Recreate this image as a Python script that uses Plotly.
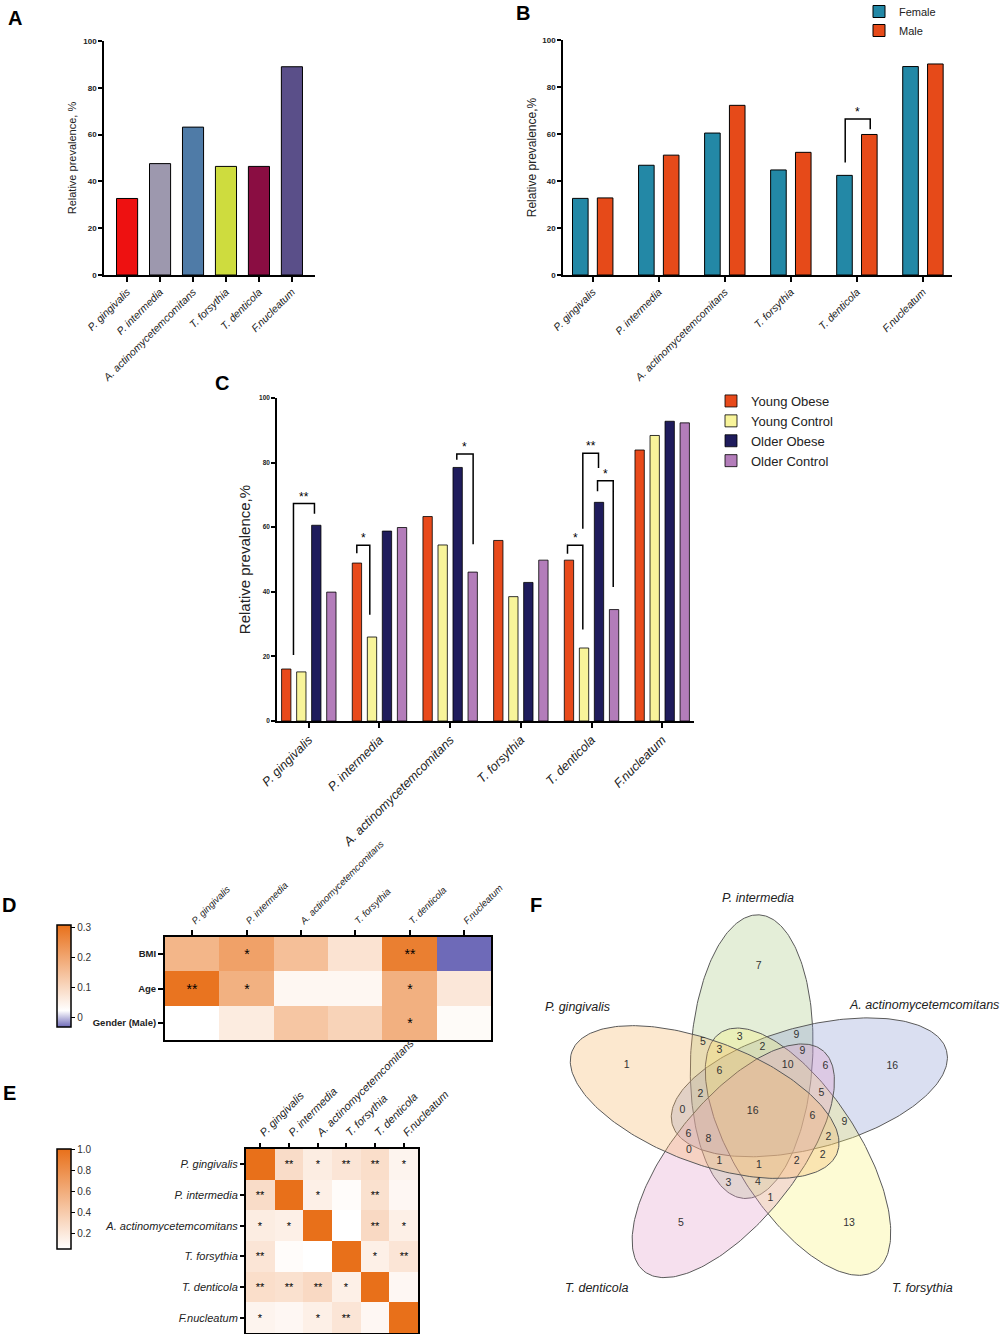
import numpy as np
import plotly.graph_objects as go

W, H = 1002, 1334


def fx(px):
    return px / W


def fy(py):
    return 1 - py / H


FONT = "Liberation Sans"

species = ["P. gingivalis", "P. intermedia", "A. actinomycetemcomitans",
           "T. forsythia", "T. denticola", "F.nucleatum"]

# ---------------- Panel A: overall prevalence ----------------
prev_all = [32.7, 47.6, 63.2, 46.4, 46.4, 89.0]
colors_a = ["#EE1111", "#9D98AE", "#4F7BA7", "#CEDC3E", "#8A0D42", "#5A4F89"]

# ---------------- Panel B: by gender ----------------
prev_female = [32.6, 46.7, 60.4, 44.7, 42.4, 88.7]
prev_male = [32.8, 51.0, 72.2, 52.2, 59.8, 89.8]
# bracket: category index, left offset, right offset, y left, y top, y right, label
brackets_b = [(4, -0.177, 0.202, 47.9, 66.4, 62.0, "*")]

# ---------------- Panel C: by group ----------------
groups_c = ["Young Obese", "Young Control", "Older Obese", "Older Control"]
young_obese = [16.1, 48.9, 63.3, 55.9, 49.8, 83.9]
young_control = [15.2, 26.0, 54.5, 38.5, 22.6, 88.4]
older_obese = [60.6, 58.8, 78.5, 42.9, 67.7, 92.8]
older_control = [39.9, 59.9, 46.1, 49.8, 34.5, 92.3]
colors_c = ["#E84A1B", "#F8F49A", "#1F1C5C", "#B37DBA"]
brackets_c = [
    (0, -0.217, 0.080, 20.4, 67.3, 64.2, "**"),
    (1, -0.321, -0.137, 51.9, 54.4, 32.9, "*"),
    (2, 0.094, 0.325, 80.9, 82.7, 54.7, "*"),
    (4, -0.340, -0.123, 51.8, 54.4, 28.3, "*"),
    (4, -0.123, 0.099, 59.5, 82.9, 78.3, "**"),
    (4, 0.085, 0.307, 71.1, 74.4, 41.5, "*"),
]

# ---------------- Panel D: correlation with host factors ----------------
factors = ["BMI", "Age", "Gender (Male)"]
corr_bmi = [0.168, 0.21, 0.15, 0.077, 0.278, -0.06]
corr_age = [0.30, 0.178, 0.037, 0.037, 0.18, 0.069]
corr_gender = [0.022, 0.06, 0.136, 0.11, 0.18, 0.03]
stars_bmi = ["", "*", "", "", "**", ""]
stars_age = ["**", "*", "", "", "*", ""]
stars_gender = ["", "", "", "", "*", ""]

# ---------------- Panel E: species co-occurrence ----------------
corr_pg = [1.0, 0.28, 0.17, 0.22, 0.27, 0.12]
corr_pi = [0.28, 1.0, 0.15, 0.07, 0.25, 0.10]
corr_aa = [0.17, 0.15, 1.0, 0.04, 0.30, 0.15]
corr_tf = [0.22, 0.07, 0.04, 1.0, 0.15, 0.22]
corr_td = [0.27, 0.25, 0.30, 0.15, 1.0, 0.10]
corr_fn = [0.12, 0.10, 0.15, 0.22, 0.10, 1.0]
stars_pg = ["", "**", "*", "**", "**", "*"]
stars_pi = ["**", "", "*", "", "**", ""]
stars_aa = ["*", "*", "", "", "**", "*"]
stars_tf = ["**", "", "", "", "*", "**"]
stars_td = ["**", "**", "**", "*", "", ""]
stars_fn = ["*", "", "*", "**", "", ""]

# ---------------- Panel F: five-set Venn ----------------
venn_sets = ["P. intermedia", "A. actinomycetemcomitans", "T. forsythia",
             "T. denticola", "P. gingivalis"]
venn_fill = ["rgba(165,198,125,0.30)", "rgba(132,148,208,0.30)",
             "rgba(248,242,112,0.30)", "rgba(225,152,198,0.30)",
             "rgba(245,178,95,0.30)"]
venn_counts = [7, 16, 13, 5, 1, 5, 3, 3, 2, 9, 9, 10, 6, 6, 2, 5, 0, 16, 6, 9,
               6, 8, 2, 0, 2, 1, 1, 2, 3, 4, 1]
venn_count_x = [758.7, 892.3, 849.0, 681.0, 626.7, 703.0, 719.3, 739.7, 762.3,
                796.3, 802.3, 787.7, 825.3, 719.3, 700.3, 821.3, 682.3, 752.7,
                812.3, 844.3, 688.3, 708.3, 828.3, 689.0, 822.7, 719.3, 759.0,
                796.7, 728.3, 758.0, 770.3]
venn_count_y = [966.0, 1066.0, 1223.3, 1223.3, 1065.3, 1042.7, 1050.0, 1037.7,
                1047.7, 1035.3, 1051.0, 1065.0, 1066.7, 1071.0, 1094.7, 1093.7,
                1110.0, 1111.0, 1116.0, 1122.7, 1134.0, 1139.3, 1137.3, 1150.0,
                1155.3, 1161.7, 1165.3, 1161.7, 1183.3, 1182.7, 1198.3]

fig = go.Figure()

# ---- Panel A
fig.add_trace(go.Bar(x=species, y=prev_all, width=0.64,
                     marker=dict(color=colors_a, line=dict(color="black", width=1)),
                     xaxis="x", yaxis="y", showlegend=False))

# ---- Panel B
fig.add_trace(go.Bar(x=species, y=prev_female, width=0.236, offset=-0.306,
                     name="Female", marker=dict(color="#2388A6", line=dict(color="black", width=1)),
                     xaxis="x2", yaxis="y2", legend="legend"))
fig.add_trace(go.Bar(x=species, y=prev_male, width=0.236, offset=0.07,
                     name="Male", marker=dict(color="#E64A19", line=dict(color="black", width=1)),
                     xaxis="x2", yaxis="y2", legend="legend"))

# ---- Panel C
c_series = [young_obese, young_control, older_obese, older_control]
c_centers = [-0.319, -0.106, 0.106, 0.319]
for name, vals, col, cen in zip(groups_c, c_series, colors_c, c_centers):
    fig.add_trace(go.Bar(x=species, y=vals, width=0.132, offset=cen - 0.066,
                         name=name, marker=dict(color=col, line=dict(color="black", width=0.8)),
                         xaxis="x3", yaxis="y3", legend="legend2"))

# ---- Panel D
fig.add_trace(go.Heatmap(
    x=species, y=factors, z=[corr_bmi, corr_age, corr_gender],
    text=[stars_bmi, stars_age, stars_gender], texttemplate="%{text}",
    textfont=dict(size=14, color="black", family=FONT),
    zmin=-0.033, zmax=0.307,
    colorscale=[[0, "#6E6AB8"], [0.16, "#FFFFFF"], [1, "#E8701A"]],
    xaxis="x4", yaxis="y4",
    colorbar=dict(x=fx(57), xanchor="left", y=fy(976), yanchor="middle",
                  len=102, lenmode="pixels", thickness=14, thicknessmode="pixels",
                  outlinewidth=1.5, outlinecolor="black",
                  tickvals=[0, 0.1, 0.2, 0.3], ticktext=["0", "0.1", "0.2", "0.3"],
                  ticks="outside", ticklen=4, tickcolor="black",
                  tickfont=dict(size=10, family=FONT, color="#333"), xpad=0, ypad=0),
    hoverinfo="skip"))

# ---- Panel E
fig.add_trace(go.Heatmap(
    x=species, y=species, z=[corr_pg, corr_pi, corr_aa, corr_tf, corr_td, corr_fn],
    text=[stars_pg, stars_pi, stars_aa, stars_tf, stars_td, stars_fn], texttemplate="%{text}",
    textfont=dict(size=11, color="black", family=FONT),
    zmin=0.05, zmax=1.0,
    colorscale=[[0, "#FFFFFF"], [1, "#E8701A"]],
    xaxis="x5", yaxis="y5",
    colorbar=dict(x=fx(57), xanchor="left", y=fy(1199), yanchor="middle",
                  len=100, lenmode="pixels", thickness=14, thicknessmode="pixels",
                  outlinewidth=1.5, outlinecolor="black",
                  tickvals=[0.2, 0.4, 0.6, 0.8, 1.0], ticktext=["0.2", "0.4", "0.6", "0.8", "1.0"],
                  ticks="outside", ticklen=4, tickcolor="black",
                  tickfont=dict(size=10, family=FONT, color="#333"), xpad=0, ypad=0),
    hoverinfo="skip"))

# ---- Panel F: Venn ellipses
venn_center = (759.4, 1111.7)
venn_offset = 55.6
venn_a, venn_b = 142.0, 61.0
venn_phi0, venn_tilt = -98.0, 11.0
t = np.linspace(0, 2 * np.pi, 240)
for k, (nm, fc) in enumerate(zip(venn_sets, venn_fill)):
    phi = np.radians(venn_phi0 + 72 * k)
    psi = phi + np.radians(venn_tilt)
    cx = venn_center[0] + venn_offset * np.cos(phi)
    cy = venn_center[1] + venn_offset * np.sin(phi)
    ex = cx + venn_a * np.cos(t) * np.cos(psi) - venn_b * np.sin(t) * np.sin(psi)
    ey = cy + venn_a * np.cos(t) * np.sin(psi) + venn_b * np.sin(t) * np.cos(psi)
    fig.add_trace(go.Scatter(x=ex, y=ey, mode="lines", fill="toself", fillcolor=fc,
                             line=dict(color="#5A5A5A", width=1), name=nm,
                             xaxis="x6", yaxis="y6", showlegend=False, hoverinfo="skip"))
fig.add_trace(go.Scatter(x=venn_count_x, y=venn_count_y, mode="text",
                         text=[str(v) for v in venn_counts],
                         textfont=dict(size=10.5, color="#333", family=FONT),
                         xaxis="x6", yaxis="y6", showlegend=False, hoverinfo="skip"))

venn_label_pos = [(758, 898), (924, 1005), (922, 1288), (597, 1288), (577, 1007)]

# ---------------- Layout ----------------
axis_line = dict(showline=True, linecolor="black", showgrid=False, automargin=False,
                 zeroline=False, ticks="outside", tickcolor="black", tickwidth=1.5)

layout = dict(
    width=W, height=H, margin=dict(l=0, r=0, t=0, b=0, pad=0, autoexpand=False),
    paper_bgcolor="white", plot_bgcolor="rgba(0,0,0,0)",
    barmode="overlay",
    font=dict(family=FONT, color="#222"),
    xaxis=dict(domain=[fx(104), fx(315)], anchor="y", type="category",
               range=[-0.7, 5.7], tickangle=-45, ticklen=5, linewidth=1.5,
               tickfont=dict(size=10.5, style="italic", family=FONT, color="#222"), **axis_line),
    yaxis=dict(domain=[fy(275), fy(41)], anchor="x", range=[0, 100],
               tickvals=[0, 20, 40, 60, 80, 100], ticklen=4, linewidth=1.5,
               tickfont=dict(size=8, weight="bold", family=FONT, color="#222"),
               title=dict(text="Relative prevalence, %", font=dict(size=11, family=FONT, color="#222"),
                          standoff=4), **axis_line),
    xaxis2=dict(domain=[fx(563), fx(952)], anchor="y2", type="category",
                range=[-0.45, 5.44], tickangle=-45, ticklen=5, linewidth=1.5,
                tickfont=dict(size=10.5, style="italic", family=FONT, color="#222"), **axis_line),
    yaxis2=dict(domain=[fy(275), fy(40)], anchor="x2", range=[0, 100],
                tickvals=[0, 20, 40, 60, 80, 100], ticklen=4, linewidth=1.5,
                tickfont=dict(size=8, weight="bold", family=FONT, color="#222"),
                title=dict(text="Relative prevalence,%", font=dict(size=12, family=FONT, color="#222"),
                           standoff=3), **axis_line),
    xaxis3=dict(domain=[fx(277), fx(694)], anchor="y3", type="category",
                range=[-0.45, 5.45], tickangle=-45, ticklen=5, linewidth=1.5,
                tickfont=dict(size=12.5, style="italic", family=FONT, color="#222"), **axis_line),
    yaxis3=dict(domain=[fy(721), fy(398)], anchor="x3", range=[0, 100],
                tickvals=[0, 20, 40, 60, 80, 100], ticklen=4, linewidth=1.5,
                tickfont=dict(size=6.5, weight="bold", family=FONT, color="#222"),
                title=dict(text="Relative prevalence,%", font=dict(size=15, family=FONT, color="#222"),
                           standoff=5), **axis_line),
    xaxis4=dict(domain=[fx(165), fx(491)], anchor="y4", side="top", type="category",
                tickangle=-45, ticklen=5, mirror=True, linewidth=2,
                tickfont=dict(size=9.5, style="italic", family=FONT, color="#222"), **axis_line),
    yaxis4=dict(domain=[fy(1040), fy(937)], anchor="x4", type="category",
                autorange="reversed", ticklen=5, mirror=True, linewidth=2,
                tickfont=dict(size=9.5, weight="bold", family=FONT, color="#222"), **axis_line),
    xaxis5=dict(domain=[fx(246), fx(418)], anchor="y5", side="top", type="category",
                tickangle=-45, ticklen=4, mirror=True, linewidth=2,
                tickfont=dict(size=11, style="italic", family=FONT, color="#222"), **axis_line),
    yaxis5=dict(domain=[fy(1333), fy(1149)], anchor="x5", type="category",
                autorange="reversed", ticklen=4, mirror=True, linewidth=2,
                tickfont=dict(size=11, style="italic", family=FONT, color="#222"), **axis_line),
    xaxis6=dict(domain=[fx(520), 1], anchor="y6", range=[520, 1002], visible=False),
    yaxis6=dict(domain=[0, fy(880)], anchor="x6", range=[1334, 880], visible=False),
    legend=dict(x=fx(859), y=1 + 3 / H, xanchor="left", yanchor="top",
                font=dict(size=11, family=FONT, color="#222"), bgcolor="rgba(0,0,0,0)",
                itemwidth=30),
    legend2=dict(x=fx(711), y=fy(386), xanchor="left", yanchor="top",
                 font=dict(size=13, family=FONT, color="#222"), bgcolor="rgba(0,0,0,0)",
                 itemwidth=30),
)
fig.update_layout(**layout)

shapes = []
annotations = []


def add_brackets(brackets, xref, yref):
    for cat, xl, xr, yl, yt, yr, lab in brackets:
        x0, x1 = cat + xl, cat + xr
        shapes.append(dict(type="path", xref=xref, yref=yref,
                           path=f"M {x0},{yl} L {x0},{yt} L {x1},{yt} L {x1},{yr}",
                           line=dict(color="black", width=1.5)))
        annotations.append(dict(x=(x0 + x1) / 2, y=yt, xref=xref, yref=yref, text=lab,
                                showarrow=False, yanchor="bottom", yshift=-2,
                                font=dict(size=12, family=FONT, color="black")))


add_brackets(brackets_b, "x2", "y2")
add_brackets(brackets_c, "x3", "y3")

for nm, (lx, ly) in zip(venn_sets, venn_label_pos):
    annotations.append(dict(x=lx, y=ly, xref="x6", yref="y6", text=nm, showarrow=False,
                            font=dict(size=12.5, family=FONT, style="italic", color="#222")))

panel_letters = [("A", 15, 18), ("B", 523, 13), ("C", 222, 383), ("D", 9, 905),
                 ("E", 9, 1093), ("F", 536, 905)]
for lab, px, py in panel_letters:
    annotations.append(dict(x=fx(px), y=fy(py), xref="paper", yref="paper", text=lab,
                            showarrow=False, xanchor="center", yanchor="middle",
                            font=dict(size=20, family=FONT, weight="bold", color="black")))

fig.update_layout(shapes=shapes, annotations=annotations)

fig.write_html("out.html", config={"displayModeBar": False},
               post_script="document.body.style.margin='0';")
